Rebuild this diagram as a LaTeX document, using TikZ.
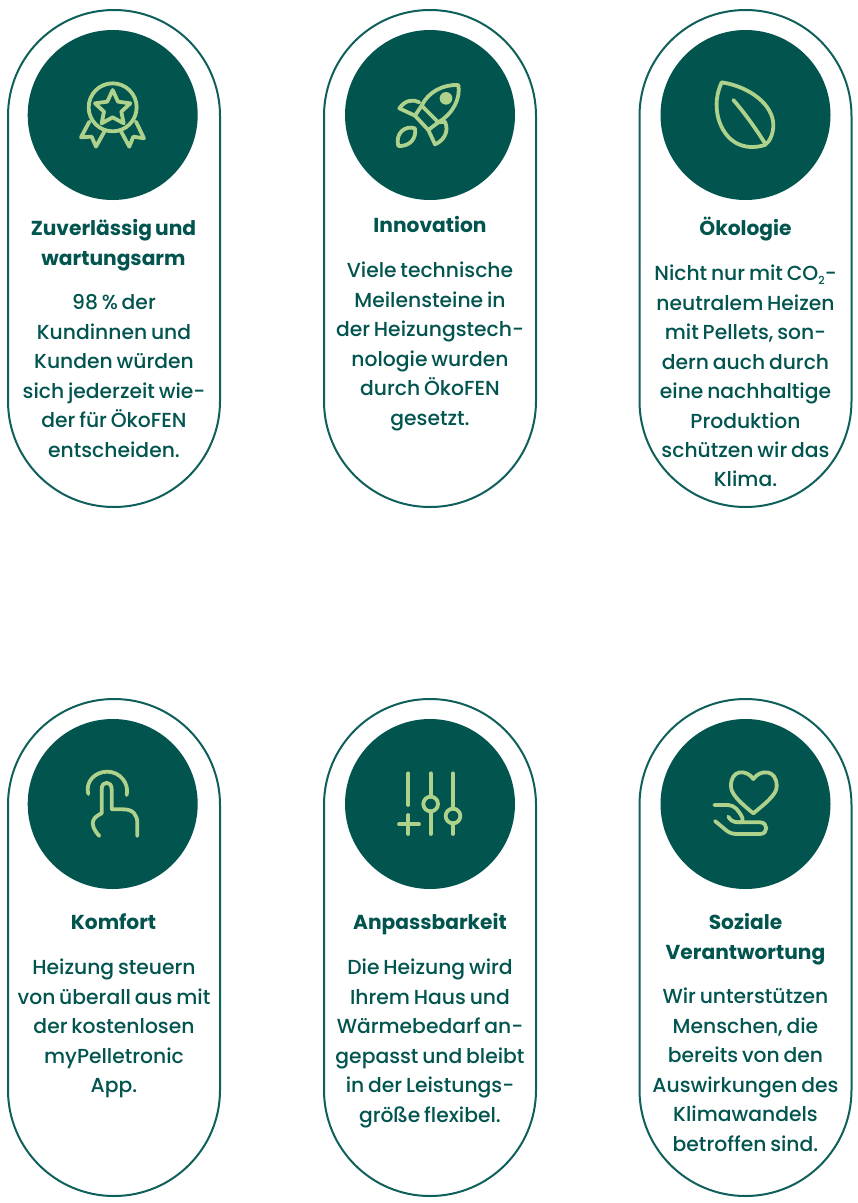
\documentclass[tikz,border=0pt]{standalone}
\usepackage{fontspec}
\setmainfont{Poppins Medium}[BoldFont=Poppins Bold,WordSpace=0.72]
\definecolor{teal}{HTML}{02544F}
\definecolor{line}{HTML}{0F5F5B}
\definecolor{leafgreen}{HTML}{AED18B}
\tikzset{
  pill/.style={draw=line,line width=2pt,fill=white,minimum width=212pt,minimum height=497pt,rounded corners=105.9pt,inner sep=0pt},
  disc/.style={circle,fill=teal,minimum size=170pt,inner sep=0pt},
  ico/.style={draw=leafgreen,line width=3.8pt,line cap=round,line join=round},
  headtext/.style={anchor=north,inner sep=0pt,align=center,text=teal,font=\fontsize{20.2}{29.6}\selectfont\bfseries},
  bodytext/.style={anchor=north,inner sep=0pt,align=center,text=teal,font=\fontsize{20.3}{29.45}\selectfont},
}
\begin{document}
\begin{tikzpicture}[x=1pt,y=-1pt]
\useasboundingbox (0,0) rectangle (858,1203);
% pills
\node[pill] (p1) at (114,258.5) {};
\node[pill] (p2) at (430,258.5) {};
\node[pill] (p3) at (745.5,258.5) {};
\node[pill] (p4) at (114,947.5) {};
\node[pill] (p5) at (430,947.5) {};
\node[pill] (p6) at (745.5,947.5) {};
% discs
\node[disc] (d1) at (112.7,115) {};
\node[disc] (d2) at (430,115) {};
\node[disc] (d3) at (745.5,115) {};
\node[disc] (d4) at (112.7,804) {};
\node[disc] (d5) at (430,804) {};
\node[disc] (d6) at (745.5,804) {};
% medal (3x zoom coordinates)
\begin{scope}[shift={(0,0)},x=.3333pt,y=-.3333pt]
\draw[ico] (338,322) circle (72);
\draw[ico] (338,270) -- (354,305) -- (391,310) -- (364,335) -- (371,370) -- (338,352) -- (305,370) -- (312,335) -- (285,310) -- (322,305) -- cycle;
\draw[ico] (268,365) -- (243,412) -- (275,410) -- (288,440) -- (313,395);
\draw[ico] (408,365) -- (432,415) -- (400,410) -- (388,440) -- (362,392);
\end{scope}
% rocket
\begin{scope}[shift={(390,75)},x=.3333pt,y=-.3333pt]
\draw[ico] (95,92) .. controls (115,50) and (160,28) .. (205,30) .. controls (212,70) and (190,115) .. (145,142) -- cycle;
\draw[ico] (95,92) -- (75,122) -- (115,165) -- (145,142);
\draw[ico] (88,82) .. controls (70,72) and (45,75) .. (28,100) -- (75,122);
\draw[ico] (115,165) -- (135,208) .. controls (155,200) and (180,175) .. (165,140) -- (145,142);
\draw[ico] (25,213) .. controls (15,175) and (45,150) .. (75,160) .. controls (80,190) and (60,215) .. (25,213) -- cycle;
\fill[leafgreen] (168,70) circle (19);
\end{scope}
% leaf
\begin{scope}[shift={(660,30)},x=.3333pt,y=-.3333pt]
\draw[ico] (185,157) .. controls (270,170) and (340,225) .. (340,285) .. controls (340,310) and (330,335) .. (315,345) .. controls (250,365) and (195,335) .. (175,265) .. controls (165,225) and (170,190) .. (185,157) -- cycle;
\draw[ico] (220,210) .. controls (255,250) and (290,300) .. (315,340);
\end{scope}
% touch
\begin{scope}[shift={(30,720)},x=.3333pt,y=-.3333pt]
\draw[ico] (175,222) .. controls (165,185) and (195,155) .. (232,155) .. controls (270,155) and (298,190) .. (290,225);
\draw[ico] (215,280) -- (215,207) .. controls (215,182) and (245,182) .. (245,207) -- (245,268) -- (280,268) .. controls (310,268) and (322,285) .. (322,310) -- (322,348);
\draw[ico] (215,280) .. controls (195,290) and (170,305) .. (208,348);
\end{scope}
% sliders
\begin{scope}[shift={(340,720)},x=.3333pt,y=-.3333pt]
\draw[ico] (205,160) -- (205,255);
\draw[ico] (205,285) -- (205,342);
\draw[ico] (177,313) -- (237,313);
\draw[ico] (272,160) -- (272,230);
\draw[ico] (272,252) circle (22);
\draw[ico] (272,274) -- (272,342);
\draw[ico] (339,160) -- (339,266);
\draw[ico] (339,288) circle (22);
\draw[ico] (339,310) -- (339,342);
\end{scope}
% heart and hand
\begin{scope}[shift={(705,765)},x=.3333pt,y=-.3333pt]
\draw[ico] (145,42) .. controls (125,12) and (76,12) .. (78,65) .. controls (78,90) and (115,120) .. (145,145) .. controls (175,120) and (215,90) .. (215,65) .. controls (217,12) and (165,12) .. (145,42) -- cycle;
\draw[ico] (28,120) -- (70,120) .. controls (90,122) and (100,135) .. (112,158) .. controls (115,168) and (110,172) .. (100,172);
\draw[ico] (70,155) .. controls (75,165) and (85,172) .. (100,172) -- (165,172) .. controls (190,172) and (190,207) .. (165,207) -- (100,207) .. controls (85,207) and (75,205) .. (65,197) -- (30,168);
\end{scope}
% texts
\node[headtext] (t1) at (113.5,214.5) {\strut Zuverlässig und\\\strut wartungsarm};
\node[bodytext] (b1) at (114,289) {\strut 98 \% der\\\strut Kundinnen und\\\strut Kunden würden\\\strut sich jederzeit wie-\\\strut der für ÖkoFEN\\\strut entscheiden.};
\node[headtext] (t2) at (430,211.5) {\strut Innovation};
\node[bodytext] (b2) at (430,257) {\strut Viele technische\\\strut Meilensteine in\\\strut der Heizungstech-\\\strut nologie wurden\\\strut durch ÖkoFEN\\\strut gesetzt.};
\node[headtext] (t3) at (745.5,214.5) {\strut Ökologie};
\node[bodytext] (b3) at (745.5,260) {\strut Nicht nur mit CO\raisebox{-3.5pt}{\fontsize{11}{11}\selectfont 2}-\\\strut neutralem Heizen\\\strut mit Pellets, son-\\\strut dern auch durch\\\strut eine nachhaltige\\\strut Produktion\\\strut schützen wir das\\\strut Klima.};
\node[headtext] (t4) at (113.5,908.5) {\strut Komfort};
\node[bodytext] (b4) at (114,954) {\strut Heizung steuern\\\strut von überall aus mit\\\strut der kostenlosen\\\strut myPelletronic\\\strut App.};
\node[headtext] (t5) at (430,908.5) {\strut Anpassbarkeit};
\node[bodytext] (b5) at (430,954) {\strut Die Heizung wird\\\strut Ihrem Haus und\\\strut Wärmebedarf an-\\\strut gepasst und bleibt\\\strut in der Leistungs-\\\strut größe flexibel.};
\node[headtext] (t6) at (745.5,908.5) {\strut Soziale\\\strut Verantwortung};
\node[bodytext] (b6) at (745.5,983) {\strut Wir unterstützen\\\strut Menschen, die\\\strut bereits von den\\\strut Auswirkungen des\\\strut Klimawandels\\\strut betroffen sind.};
\end{tikzpicture}
\end{document}
